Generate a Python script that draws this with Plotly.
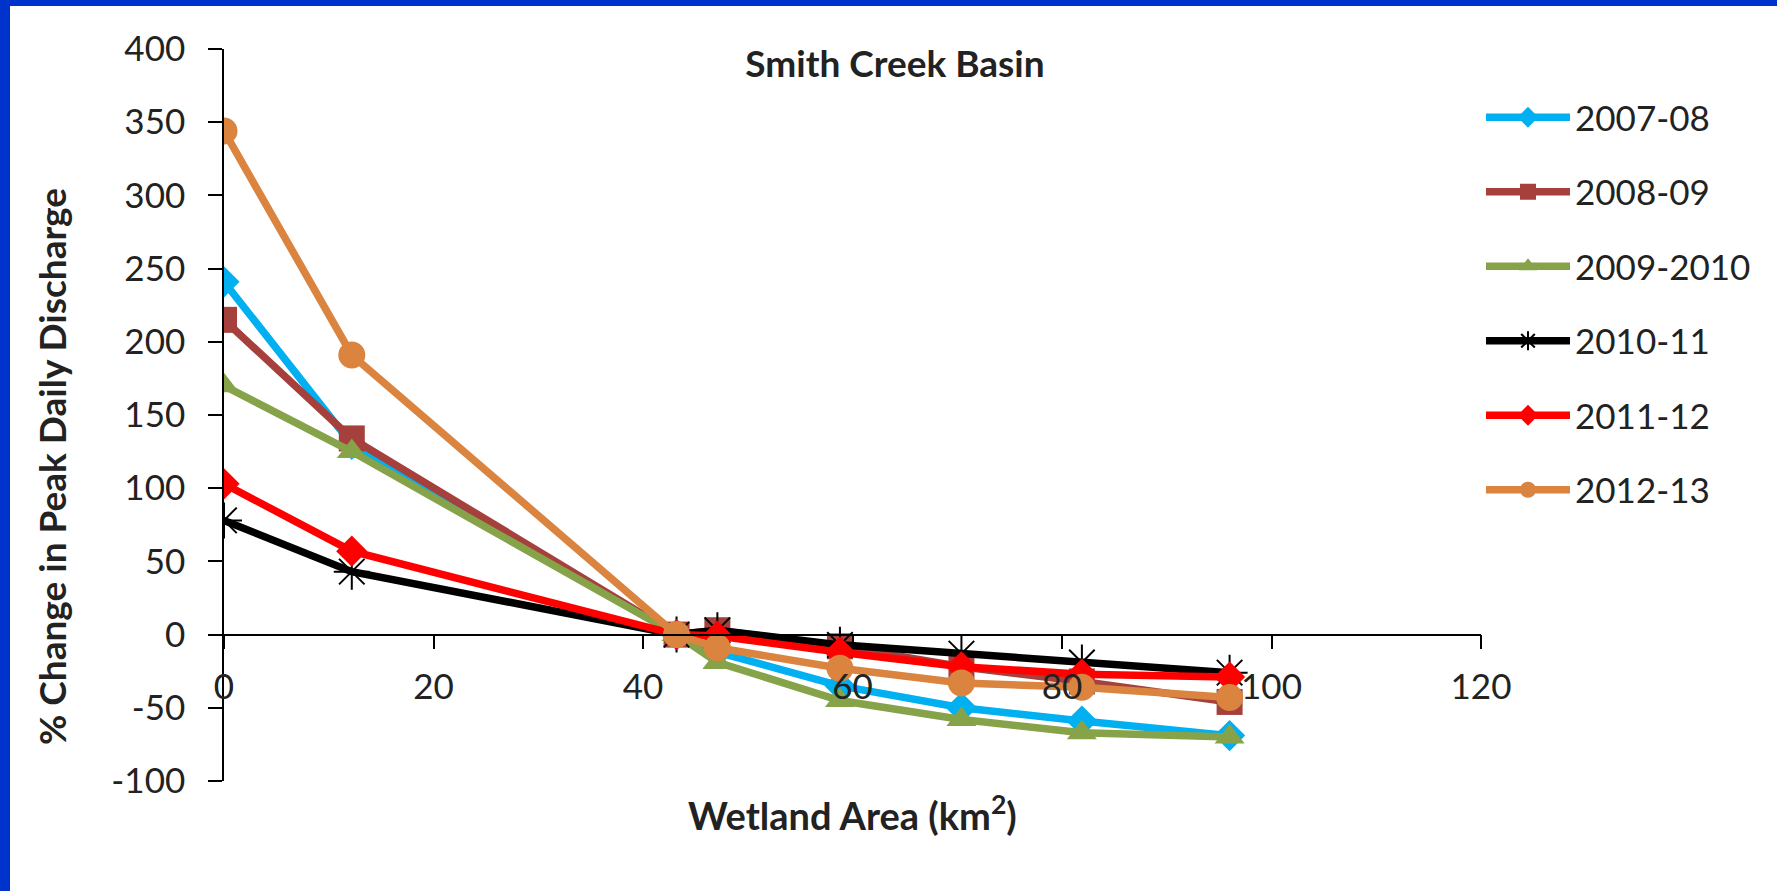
import plotly.graph_objects as go

# wetland area (km2) for each scenario
wetland_area = [0, 12.2, 43.2, 47.1, 58.8, 70.4, 81.9, 96.0]

# % change in peak daily discharge, one list per year
change_2007_08 = [241, 130, 0, -12, -35, -50, -59, -69]
change_2008_09 = [215, 134, 0, 3, -8, -22, -32, -46]
change_2009_10 = [170, 125, 0, -19, -45, -58, -67, -70]
change_2010_11 = [78, 43, 0, 3, -7, -13, -19, -26]
change_2011_12 = [103, 57, 0, -1, -12, -22, -27, -29]
change_2012_13 = [344, 191, 0, -9, -23, -33, -36, -43]

series_names = ["2007-08", "2008-09", "2009-2010", "2010-11", "2011-12", "2012-13"]
series_values = [change_2007_08, change_2008_09, change_2009_10,
                 change_2010_11, change_2011_12, change_2012_13]

# axis ticks (Excel style hyphen minus)
x_ticks = [0, 20, 40, 60, 80, 100, 120]
y_ticks = [-100, -50, 0, 50, 100, 150, 200, 250, 300, 350, 400]
y_tick_labels = ["-100", "-50", "0", "50", "100", "150", "200", "250", "300", "350", "400"]

colors = ["#00B0F0", "#A5403C", "#86A34A", "#000000", "#FF0000", "#DA8440"]
symbols = ["diamond", "square", "triangle-up", "asterisk-open", "diamond", "circle"]
sizes = [24, 26, 26, 30, 24, 27]

W, H = 1777, 891
ML, MR, MT, MB = 224, 296, 49, 110
PW, PH = W - ML - MR, H - MT - MB


def px_x(p):
    # pixel -> paper x
    return (p - ML) / PW


def px_y(p):
    # pixel -> paper y
    return (H - MB - p) / PH


FONT = "Lato, 'Open Sans', sans-serif"
TXT = "#222222"

fig = go.Figure()
for name, vals, c, s, sz in zip(series_names, series_values, colors, symbols, sizes):
    marker = dict(symbol=s, size=sz, color=c)
    if s == "asterisk-open":
        marker["line"] = dict(color=c, width=2)
    fig.add_trace(go.Scatter(
        x=wetland_area, y=vals, name=name, legendgroup=name,
        mode="lines+markers",
        line=dict(color=c, width=7.5),
        marker=marker,
    ))

axis_common = dict(
    showgrid=False, zeroline=False, showline=True, linecolor="black",
    linewidth=1.5, ticks="outside", ticklen=14, tickwidth=1.5,
    tickcolor="black", tickfont=dict(family=FONT, size=35, color=TXT),
)

fig.update_layout(
    width=W, height=H,
    margin=dict(l=ML, r=MR, t=MT, b=MB),
    paper_bgcolor="#0033CC",
    plot_bgcolor="white",
    font=dict(family=FONT, color=TXT),
    title=dict(text="<b>Smith Creek Basin</b>", x=px_x(895), xref="paper",
               xanchor="center", y=1 - 64 / H, yanchor="middle",
               font=dict(family=FONT, size=37, color=TXT)),
    xaxis=dict(range=[0, 120], tickvals=x_ticks, anchor="free", position=0.2,
               ticklabelstandoff=8, **axis_common),
    yaxis=dict(range=[-100, 400], tickvals=y_ticks, ticktext=y_tick_labels,
               ticklabelstandoff=16, **axis_common),
    legend=dict(x=1.0, y=px_y(88), xanchor="left", yanchor="top",
                font=dict(family=FONT, size=35, color=TXT),
                itemwidth=84, tracegroupgap=26, bgcolor="rgba(0,0,0,0)"),
    showlegend=True,
    shapes=[dict(type="rect", xref="paper", yref="paper", layer="below",
                 x0=px_x(10), x1=px_x(W + 20), y0=px_y(H + 20), y1=px_y(6),
                 fillcolor="white", line=dict(width=0))],
    annotations=[
        dict(text="<b>Wetland Area (km<sup>2</sup>)</b>", xref="paper", yref="paper",
             x=px_x(852), y=px_y(813), xanchor="center", yanchor="middle",
             showarrow=False, font=dict(family=FONT, size=38, color=TXT)),
        dict(text="<b>% Change in Peak Daily Discharge</b>", xref="paper", yref="paper",
             x=px_x(51), y=px_y(467), xanchor="center", yanchor="middle",
             showarrow=False, textangle=-90,
             font=dict(family=FONT, size=37, color=TXT)),
    ],
)

# drop the page's default body margin so the figure sits at the window origin
fig.write_html("out.html", config={"displayModeBar": False},
               post_script="document.body.style.margin='0';")
